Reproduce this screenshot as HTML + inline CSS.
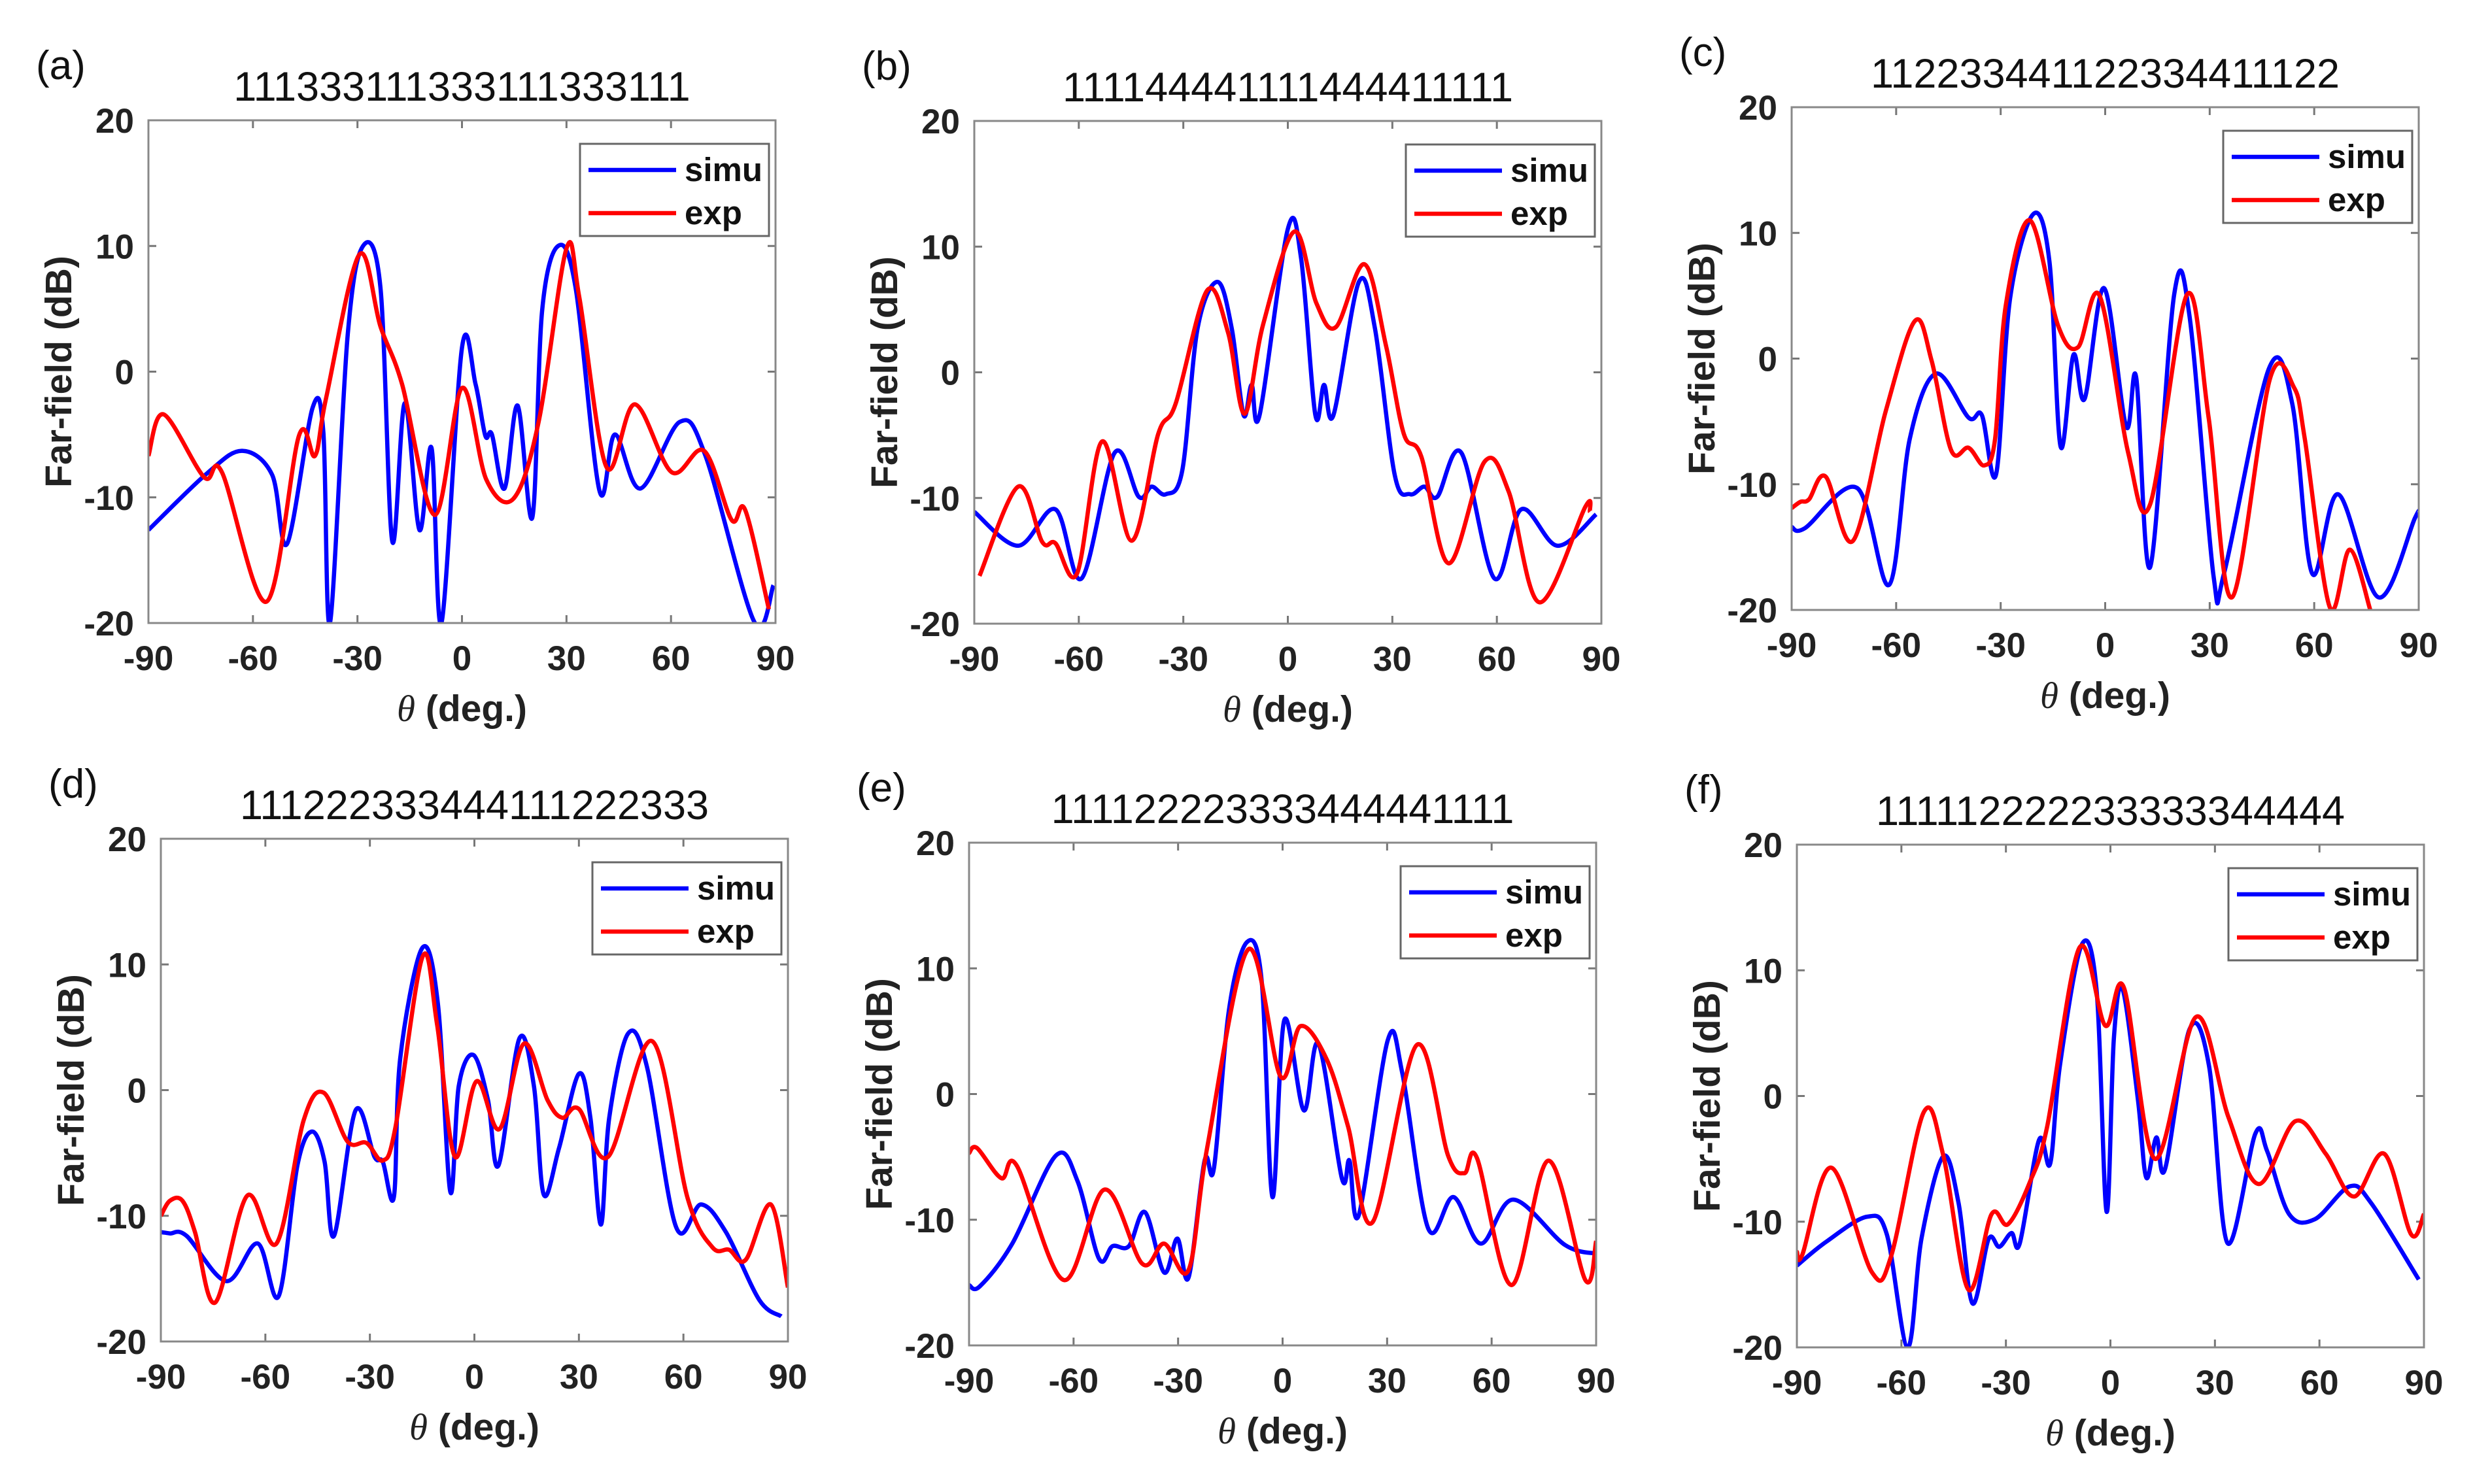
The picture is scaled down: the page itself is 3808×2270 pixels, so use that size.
<!DOCTYPE html>
<html><head><meta charset="utf-8"><style>
html,body{margin:0;padding:0;background:#fff}
svg{display:block}
</style></head><body>
<svg id="fig" width="3808" height="2270" viewBox="0 0 3808 2270" xmlns="http://www.w3.org/2000/svg"></svg>
<script>
const xTicks=[-90,-60,-30,0,30,60,90];
const yTicks=[20,10,0,-10,-20];
const panelLabels=["(a)","(b)","(c)","(d)","(e)","(f)"];
const panelTitles=["111333111333111333111","111144441111444411111","112233441122334411122","111222333444111222333","111122223333444441111","111112222233333344444"];
const boxLeft=[227,1490,2740,246,1482,2748];
const boxTop=[184,185,164,1283,1289,1292];
const aSimuT=[-90,-73.2,-63.1,-54.5,-50.2,-42.9,-39.8,-37.9,-32.8,-28.4,-23.4,-20,-16.4,-12.2,-8.7,-5.9,0,3.9,6.7,8.6,12.2,16,20.2,23,27.6,32.6,39.5,43.9,51.2,62.5,69.9,83.9,89.4];
const aSimuV=[-12.6,-8.1,-6.3,-8.2,-13.7,-2.9,-4.8,-20,2.9,10,6.7,-13.5,-2.5,-12.6,-6.1,-20,1.9,-1,-5.1,-5,-9.3,-2.7,-11.6,4.8,10,6.7,-9.5,-5,-9.3,-4,-6.7,-19.9,-17];
const aExpT=[-90,-85.6,-74,-68.9,-56.1,-46.8,-42.2,-39,-29.5,-23.4,-17.2,-7.8,0,7,14.8,22,30,33.7,41.5,49.6,60.2,69.5,77.4,81.3,88.1];
const aExpV=[-6.7,-3.4,-8.4,-8,-18.3,-5.1,-6.7,-2.1,9.3,3.6,-1,-11.4,-1.3,-8.6,-10.1,-4,9.8,5.9,-7.6,-2.6,-8,-6.3,-11.8,-11,-18.9];
const bSimuT=[-90,-77.4,-66.7,-59.2,-49.7,-42.8,-39.1,-35,-30.3,-25.9,-20.2,-16.1,-12.7,-10.4,-8.1,0,3.8,7.9,10.4,13.1,20.4,25,30.7,35.1,39.2,42.9,49.8,59.3,67,77.4,88.5];
const bSimuV=[-11.1,-13.8,-10.9,-16.4,-6.4,-9.9,-9.1,-9.7,-7.8,3.5,7.2,3.5,-3.4,-1,-3.4,11.4,9.1,-3.4,-1,-3.4,7.2,3.5,-8.2,-9.7,-9.1,-9.9,-6.4,-16.4,-10.9,-13.8,-11.3];
const bExpT=[-88.5,-77.4,-70.5,-66.7,-60.5,-53.3,-44.8,-37.2,-32.2,-23.2,-17.2,-12.4,-7.1,1.9,8.2,13.8,22,28.2,33.3,38.3,46.2,56.5,63.4,72.2,85.4,86.7];
const bExpV=[-16.2,-9.1,-13.5,-13.6,-16,-5.5,-13.4,-4.9,-2.5,6.5,3.2,-3.3,3.8,11.2,5.5,3.6,8.6,2.1,-4.9,-6.7,-15.2,-7.1,-9.5,-18.3,-10.7,-11.1];
const cSimuT=[-90,-86.2,-71.2,-62,-56.1,-48.6,-39.2,-35.4,-31.3,-27.3,-20.6,-16,-12.8,-9.1,-5.9,-0.3,6,8.9,12.9,19.8,24.2,31.1,34.2,47,53.7,59.4,66.9,78.5,88.9,90];
const cSimuV=[-13.4,-13.5,-10.3,-18,-6.4,-1.2,-4.7,-4.5,-9.2,4.8,11.5,7.7,-7,0.3,-3.2,5.6,-5.4,-1.5,-16.6,5.1,3.4,-17.3,-17,-0.8,-3.6,-17.1,-10.8,-19,-12.7,-12.3];
const cExpT=[-90,-87.5,-85,-80.2,-72.4,-63,-54.6,-49.8,-44.2,-39.2,-34.7,-31.6,-28.5,-21.6,-13.5,-7.8,-1.6,6.6,12.9,23.5,29.7,36.4,47.3,54.2,57.3,64.5,70.2,76.1];
const cExpV=[-11.9,-11.4,-11.2,-9.4,-14.5,-4.2,3,-0.2,-7.3,-7.1,-8.5,-6.4,4.3,11,2.6,0.9,5,-7.5,-11.6,5.1,-4.7,-19,-1.6,-2.3,-6.4,-19.8,-15.2,-20];
const dSimuT=[-90,-87.4,-82.6,-71.2,-62.2,-56.2,-50.8,-46.6,-43,-40.3,-34.1,-28.7,-26.3,-23.1,-21.3,-15,-10.5,-6.9,-4.5,-0.3,3.9,6.9,12.9,17.1,19.9,24.3,30,33.3,36.3,38.7,44.1,49.5,57.9,65.1,72.2,81.8,88.1];
const dSimuV=[-11.3,-11.4,-11.6,-15.2,-12.2,-16.4,-6,-3.3,-5.7,-11.6,-1.6,-5.3,-5.7,-8.5,2.5,11.3,6.9,-8.1,0.3,2.8,-0.8,-6,4.1,0.3,-8.3,-4.6,1.3,-2.2,-10.7,-2.2,4.5,1.9,-10.9,-9.1,-11.3,-16.7,-18];
const dExpT=[-90,-87.4,-83.8,-80.2,-74.4,-65.2,-56.8,-49,-43.3,-36.4,-31,-26.3,-22.7,-14.9,-10.7,-5.6,0.6,7.2,14.2,21,25.2,30,38.4,51,61.2,68.3,73.1,77.9,85.1,90];
const dExpV=[-10,-8.8,-8.8,-11.3,-16.9,-8.4,-12.2,-2.4,-0.2,-4.1,-4.2,-5.6,-3,10.6,5.2,-5.3,0.7,-3.1,3.7,-0.8,-2.2,-1.5,-5.3,3.9,-8.6,-12.5,-12.7,-13.5,-9.1,-15.7];
const eSimuT=[-90,-86.9,-77.6,-65.1,-58.9,-52.7,-48.8,-44.1,-39.5,-34,-30.2,-27,-22.4,-19.7,-15.4,-10.2,-6,-2.9,0.5,6.1,10.3,17,19.2,21.9,30.2,34.4,41.8,49.1,56.9,66.2,81,90];
const eSimuV=[-15.2,-15.3,-11.9,-4.9,-6.9,-13.1,-12.1,-12.1,-9.4,-14.2,-11.5,-14.6,-5.3,-5.9,6.7,12.1,9,-8.2,5.9,-1.3,4,-6.7,-5.3,-9.6,4.3,1.6,-10.7,-8.2,-11.9,-8.4,-12,-12.7];
const eExpT=[-90,-87.7,-80.7,-76.3,-62.8,-51.1,-40.3,-34,-27,-21.6,-9.9,-0.6,5.1,12.6,18.8,25.8,38.5,47.5,52.2,55.8,65.7,76.3,86.9,90];
const eExpV=[-4.7,-4.3,-6.7,-5.7,-14.8,-7.6,-13.5,-11.9,-14,-4.2,11.5,1.4,5.4,2.8,-2.6,-10.2,3.9,-4.9,-6.3,-5.1,-15.2,-5.3,-14.8,-11.7];
const fSimuT=[-90,-81.6,-69.8,-64.2,-58.2,-54.2,-48,-43.6,-39.6,-35,-31.9,-28.4,-26,-20.5,-17.3,-14.5,-8.3,-4,-1.1,1,3.5,7.9,10.3,13.2,15.7,22.7,28.3,33.6,41.6,45,51.3,58.7,68.6,74.8,88.5];
const fSimuV=[-13.5,-11.6,-9.6,-11,-20,-11.3,-4.8,-8.5,-16.5,-11.4,-12,-10.9,-11.7,-3.5,-5.4,2.4,12,8.5,-9.2,4.6,8.5,-0.3,-6.5,-3.3,-5.8,5.3,2.4,-11.7,-3,-4.4,-9.4,-9.8,-7.2,-8.5,-14.6];
const fExpT=[-90,-88.4,-80.1,-68.5,-63,-53.6,-48,-40.8,-34.1,-29.4,-23.2,-18.2,-8.9,-1.5,3.9,12.8,24.6,33.9,42.6,53.1,61.8,69.9,78.6,86.3,90];
const fExpV=[-12.4,-12.6,-5.7,-14,-12.8,-1.3,-4.7,-15.4,-9.4,-10.2,-6.9,-2.5,11.8,5.6,8.6,-5,6.3,-1.7,-7,-2,-4.6,-8,-4.6,-11,-9.4];
const simuT=[aSimuT,bSimuT,cSimuT,dSimuT,eSimuT,fSimuT];
const simuV=[aSimuV,bSimuV,cSimuV,dSimuV,eSimuV,fSimuV];
const expT=[aExpT,bExpT,cExpT,dExpT,eExpT,fExpT];
const expV=[aExpV,bExpV,cExpV,dExpV,eExpV,fExpV];

const NS="http://www.w3.org/2000/svg";
const svg=document.getElementById('fig');
const W=959,H=769;
function mk(tag,attrs,parent){const e=document.createElementNS(NS,tag);for(const k in attrs)e.setAttribute(k,attrs[k]);(parent||svg).appendChild(e);return e;}
function pathFrom(pts){
  let d="M"+pts[0][0].toFixed(1)+","+pts[0][1].toFixed(1);
  for(let i=0;i<pts.length-1;i++){
    const p0=pts[Math.max(0,i-1)],p1=pts[i],p2=pts[i+1],p3=pts[Math.min(pts.length-1,i+2)];
    const c1x=p1[0]+(p2[0]-p0[0])/6,c1y=p1[1]+(p2[1]-p0[1])/6;
    const c2x=p2[0]-(p3[0]-p1[0])/6,c2y=p2[1]-(p3[1]-p1[1])/6;
    d+=" C"+c1x.toFixed(1)+","+c1y.toFixed(1)+" "+c2x.toFixed(1)+","+c2y.toFixed(1)+" "+p2[0].toFixed(1)+","+p2[1].toFixed(1);
  }
  return d;
}
const font='"Liberation Sans", Arial, sans-serif';
for(let p=0;p<6;p++){
  const L=boxLeft[p],T=boxTop[p];
  const xs=v=>L+(v+90)/180*W;
  const ys=v=>T+(20-v)/40*H;
  const g=mk('g',{});
  
  
  const cid='clip'+p;
  const cp=mk('clipPath',{id:cid},g);
  mk('rect',{x:L,y:T,width:W,height:H},cp);
  const pl=mk('text',{x:L-172,y:T-63,'font-family':font,'font-size':62,fill:'#111'},g);
  pl.textContent=panelLabels[p];
  
  
  const tt=mk('text',{x:L+W/2,y:T-30,'text-anchor':'middle','font-family':font,'font-size':63,fill:'#111'},g);
  tt.textContent=panelTitles[p];
  
  
  for(const t of xTicks){
    const x=xs(t);
    mk('line',{x1:x,y1:T+H,x2:x,y2:T+H-12,stroke:'#777','stroke-width':3},g);
    mk('line',{x1:x,y1:T,x2:x,y2:T+12,stroke:'#777','stroke-width':3},g);
    const tl=mk('text',{x:x,y:T+H+72,'text-anchor':'middle','font-family':font,'font-weight':'bold','font-size':53,fill:'#222'},g);
    tl.textContent=String(t);
    
    
  }
  for(const t of yTicks){
    const y=ys(t);
    mk('line',{x1:L,y1:y,x2:L+12,y2:y,stroke:'#777','stroke-width':3},g);
    mk('line',{x1:L+W,y1:y,x2:L+W-12,y2:y,stroke:'#777','stroke-width':3},g);
    const tl=mk('text',{x:L-22,y:y+19,'text-anchor':'end','font-family':font,'font-weight':'bold','font-size':53,fill:'#222'},g);
    tl.textContent=String(t);
    
    
  }
  const xl=mk('text',{x:L+W/2,y:T+H+150,'text-anchor':'middle','font-family':font,'font-weight':'bold','font-size':57,fill:'#222'},g);
  xl.innerHTML='<tspan font-family="Liberation Serif, serif" font-style="italic" font-weight="normal">θ</tspan> (deg.)';
  
  
  const yl=mk('text',{x:0,y:0,'text-anchor':'middle','font-family':font,'font-weight':'bold','font-size':57,fill:'#222',transform:'translate('+(L-118)+','+(T+H/2)+') rotate(-90)'},g);
  yl.textContent='Far-field (dB)';
  
  
  const series=[[simuT[p],simuV[p],'#0000ff','simu'],[expT[p],expV[p],'#ff0000','exp']];
  for(const s of series){
    const pts=s[0].map((t,i)=>[xs(t),ys(s[1][i])]);
    const path=mk('path',{d:pathFrom(pts),fill:'none',stroke:s[2],'stroke-width':6.5,'stroke-linejoin':'round','clip-path':'url(#'+cid+')'},g);
    
    
  }
  mk('rect',{x:L,y:T,width:W,height:H,fill:'none',stroke:'#888','stroke-width':3},g);
  const lg=mk('g',{},g);
  
  
  const lx=L+W-299,ly=T+36;
  mk('rect',{x:lx,y:ly,width:289,height:141,fill:'#fff',stroke:'#666','stroke-width':3},lg);
  for(let i=0;i<2;i++){
    const s=series[i],yy=ly+40+i*66;
    mk('line',{x1:lx+13,y1:yy,x2:lx+147,y2:yy,stroke:s[2],'stroke-width':6.5},lg);
    const t=mk('text',{x:lx+160,y:yy+17,'font-family':font,'font-weight':'bold','font-size':51,fill:'#111'},lg);
    t.textContent=s[3];
    
    
  }
}
</script>
</body></html>
